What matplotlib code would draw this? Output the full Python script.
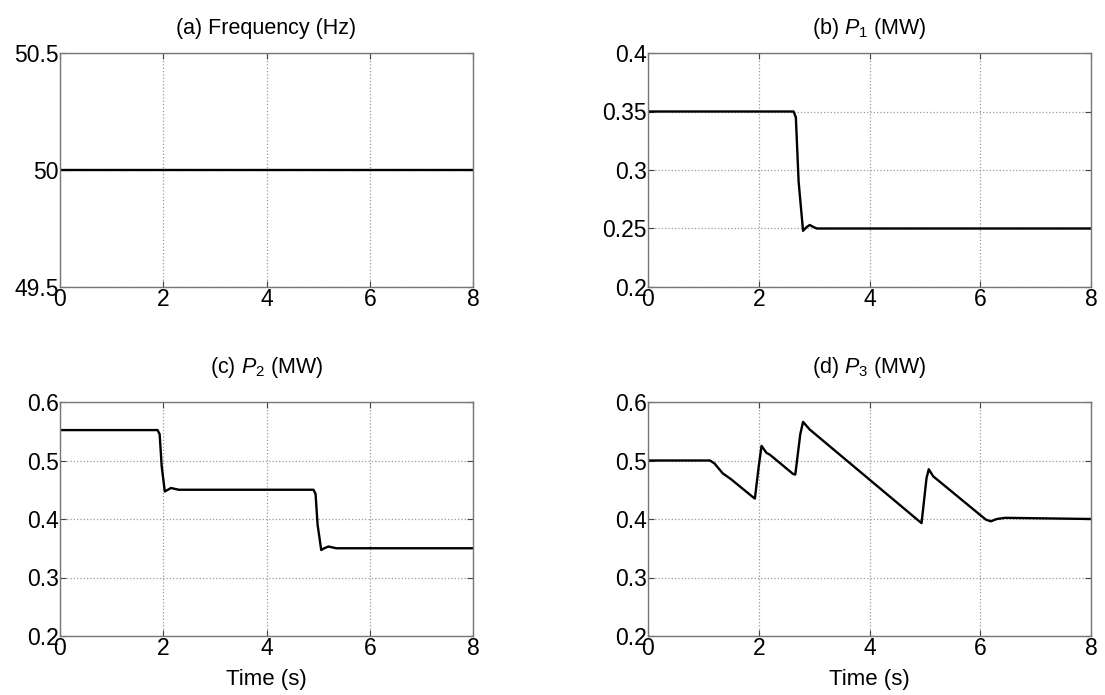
import numpy as np
import matplotlib.pyplot as plt

plt.rcParams['font.family'] = ['Liberation Sans', 'DejaVu Sans']
plt.rcParams['mathtext.fontset'] = 'custom'
plt.rcParams['mathtext.rm'] = 'Liberation Sans'
plt.rcParams['mathtext.it'] = 'Liberation Sans:italic'

# (a) frequency (Hz)
t_f = [0, 8]
freq = [50, 50]

# (b) P1 (MW)
t_p1 = [0, 2.63, 2.67, 2.72, 2.8, 2.86, 2.92, 3.0, 3.05, 8]
p1 = [0.35, 0.35, 0.345, 0.29, 0.248, 0.251, 0.253, 0.251, 0.25, 0.25]

# (c) P2 (MW)
t_p2 = [0, 1.89, 1.93, 1.97, 2.03, 2.09, 2.15, 2.25, 2.3,
        4.91, 4.95, 4.99, 5.06, 5.12, 5.2, 5.3, 5.35, 8]
p2 = [0.552, 0.552, 0.545, 0.49, 0.447, 0.45, 0.453, 0.451, 0.45,
      0.45, 0.443, 0.39, 0.347, 0.35, 0.353, 0.351, 0.35, 0.35]

# (d) P3 (MW)
t_p3 = [0, 1.12, 1.2, 1.35, 1.5, 1.9, 1.93, 2.0, 2.05, 2.14, 2.2,
        2.62, 2.66, 2.75, 2.8, 2.92, 4.9, 4.94, 5.03, 5.07, 5.15,
        6.1, 6.19, 6.3, 6.45, 8]
p3 = [0.5, 0.5, 0.495, 0.478, 0.468, 0.437, 0.435, 0.49, 0.525, 0.513, 0.51,
      0.477, 0.476, 0.545, 0.566, 0.553, 0.396, 0.393, 0.47, 0.485, 0.473,
      0.399, 0.396, 0.4, 0.402, 0.4]

W, H = 1105, 695
fig = plt.figure(figsize=(W / 100, H / 100), dpi=100)


def make_ax(l, r, t, b):
    return fig.add_axes([l / W, 1 - b / H, (r - l) / W, (b - t) / H])


panels = [
    (make_ax(60, 473, 53, 287), t_f, freq, '(a) Frequency (Hz)', [49.5, 50, 50.5], ['49.5', '50', '50.5'], False),
    (make_ax(648, 1091, 53, 287), t_p1, p1, r'(b) $P_1$ (MW)', [0.2, 0.25, 0.3, 0.35, 0.4], ['0.2', '0.25', '0.3', '0.35', '0.4'], False),
    (make_ax(60, 473, 402, 636), t_p2, p2, r'(c) $P_2$ (MW)', [0.2, 0.3, 0.4, 0.5, 0.6], ['0.2', '0.3', '0.4', '0.5', '0.6'], True),
    (make_ax(648, 1091, 402, 636), t_p3, p3, r'(d) $P_3$ (MW)', [0.2, 0.3, 0.4, 0.5, 0.6], ['0.2', '0.3', '0.4', '0.5', '0.6'], True),
]

for ax, t, y, title, yt, ytl, bottom_row in panels:
    ax.plot(t, y, color='black', lw=1.7)
    ax.set_xlim(0, 8)
    ax.set_ylim(yt[0], yt[-1])
    ax.set_xticks([0, 2, 4, 6, 8])
    ax.set_yticks(yt)
    ax.set_yticklabels(ytl)
    ax.tick_params(direction='in', length=4, labelsize=16.5, color='#444444', pad=1,
                   top=True, right=True)
    ax.grid(True, linestyle=':', color='#999999', lw=0.9)
    for s in ax.spines.values():
        s.set_color('#777777')
        s.set_linewidth(1.0)
    ax.set_title(title, fontsize=15.5, pad=21 if bottom_row else 14)
    if bottom_row:
        ax.set_xlabel('Time (s)', fontsize=16, labelpad=6)

fig.savefig('out.png', dpi=100)
